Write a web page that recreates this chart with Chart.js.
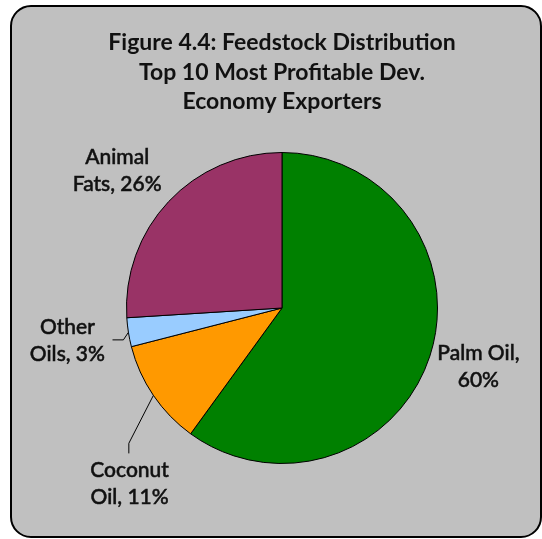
<!DOCTYPE html>
<html>
<head>
<meta charset="utf-8">
<script src="https://cdn.jsdelivr.net/npm/chart.js@4"></script>
<style>
  html, body { margin: 0; padding: 0; background: #ffffff; }
  #wrap { width: 542px; height: 539px; position: relative; }
</style>
</head>
<body>
<div id="wrap"><canvas id="c" width="542" height="539"></canvas></div>
<script>
// Feedstock shares (percent), clockwise from 12 o'clock
const categories = ['Palm Oil', 'Coconut Oil', 'Other Oils', 'Animal Fats'];
const shares = [60, 11, 3, 26];
const sliceColors = ['#008000', '#FF9900', '#99CCFF', '#993366'];
const titleLines = ['Figure 4.4: Feedstock Distribution', 'Top 10 Most Profitable Dev.', 'Economy Exporters'];

// Label placement: two text lines per slice, anchored relative to pie centre (in radii)
const labelLines = [
  ['Palm Oil,', '60%'],
  ['Coconut', 'Oil, 11%'],
  ['Other', 'Oils, 3%'],
  ['Animal', 'Fats, 26%']
];
const labelAnchor = [
  { dx: 1.263, dy: 0.375 },
  { dx: -0.98, dy: 1.13 },
  { dx: -1.38, dy: 0.21 },
  { dx: -1.06, dy: -0.88 }
];
// Leader lines (only for the small slices): elbow point and text end, in radii
const leaders = [
  null,
  { elbow: { dx: -0.985, dy: 0.87 }, end: { dx: -0.985, dy: 0.935 } },
  { elbow: { dx: -1.02, dy: 0.205 }, end: { dx: -1.09, dy: 0.205 } },
  null
];

const FONT = "Lato, 'Open Sans', sans-serif";

const framePlugin = {
  id: 'frame',
  beforeDraw(chart) {
    const ctx = chart.ctx;
    ctx.save();
    ctx.fillStyle = '#ffffff';
    ctx.fillRect(0, 0, chart.width, chart.height);
    const x = 11, y = 6, w = 530, h = 531, r = 20;
    ctx.beginPath();
    ctx.moveTo(x + r, y);
    ctx.lineTo(x + w - r, y);
    ctx.arcTo(x + w, y, x + w, y + r, r);
    ctx.lineTo(x + w, y + h - r);
    ctx.arcTo(x + w, y + h, x + w - r, y + h, r);
    ctx.lineTo(x + r, y + h);
    ctx.arcTo(x, y + h, x, y + h - r, r);
    ctx.lineTo(x, y + r);
    ctx.arcTo(x, y, x + r, y, r);
    ctx.closePath();
    ctx.fillStyle = '#c0c0c0';
    ctx.fill();
    ctx.lineWidth = 2;
    ctx.strokeStyle = '#000000';
    ctx.stroke();

    // title
    ctx.fillStyle = '#111111';
    ctx.font = "bold 23px " + FONT;
    ctx.textAlign = 'center';
    ctx.textBaseline = 'middle';
    titleLines.forEach((t, i) => ctx.fillText(t, 282, 43 + i * 29.5));
    ctx.restore();
  },
  afterDatasetsDraw(chart) {
    const ctx = chart.ctx;
    const meta = chart.getDatasetMeta(0);
    ctx.save();
    meta.data.forEach((arc, i) => {
      const cx = arc.x, cy = arc.y, R = arc.outerRadius;
      const mid = (arc.startAngle + arc.endAngle) / 2;
      const ld = leaders[i];
      if (ld) {
        ctx.beginPath();
        ctx.moveTo(cx + Math.cos(mid) * R, cy + Math.sin(mid) * R);
        ctx.lineTo(cx + ld.elbow.dx * R, cy + ld.elbow.dy * R);
        ctx.lineTo(cx + ld.end.dx * R, cy + ld.end.dy * R);
        ctx.strokeStyle = '#000000';
        ctx.lineWidth = 1;
        ctx.stroke();
      }
      const lx = cx + labelAnchor[i].dx * R;
      const ly = cy + labelAnchor[i].dy * R;
      ctx.fillStyle = '#111111';
      ctx.strokeStyle = '#111111';
      ctx.lineWidth = 0.5;
      ctx.font = "500 21px " + FONT;
      ctx.textAlign = 'center';
      ctx.textBaseline = 'middle';
      labelLines[i].forEach((t, k) => {
        const ty = ly + (k - 0.5) * 27;
        ctx.fillText(t, lx, ty);
        ctx.strokeText(t, lx, ty);
      });
    });
    ctx.restore();
  }
};

new Chart(document.getElementById('c'), {
  type: 'pie',
  data: {
    labels: categories,
    datasets: [{
      data: shares,
      backgroundColor: sliceColors,
      borderColor: '#000000',
      borderWidth: 1
    }]
  },
  options: {
    responsive: false,
    animation: false,
    rotation: 0,
    layout: { padding: { top: 152, bottom: 75, left: 22, right: 0 } },
    plugins: {
      legend: { display: false },
      title: { display: false },
      tooltip: { enabled: false }
    }
  },
  plugins: [framePlugin]
});
</script>
</body>
</html>
